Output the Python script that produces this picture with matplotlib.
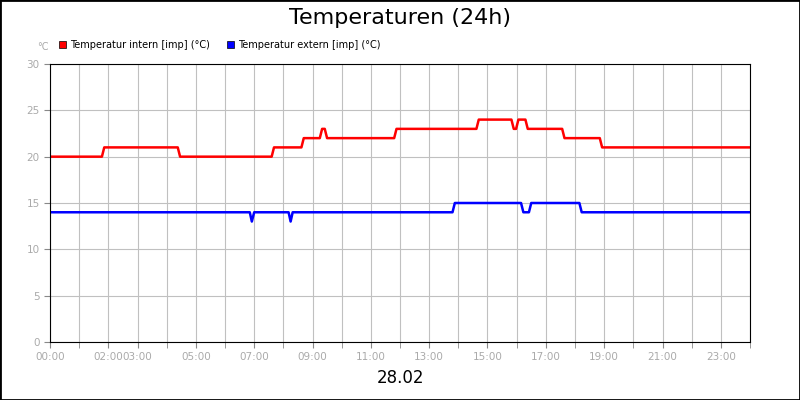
import matplotlib
matplotlib.use("Agg")
import matplotlib.pyplot as plt
from matplotlib.patches import Rectangle

# time (hours) / value breakpoints
intern_t = [0, 1.78, 1.86, 4.38, 4.46, 7.6, 7.68, 8.62, 8.7, 9.25, 9.33, 9.42, 9.5, 11.8, 11.88, 14.62, 14.7, 15.82, 15.9, 15.98, 16.06, 16.3, 16.38, 17.56, 17.64, 18.85, 18.93, 24]
intern_v = [20, 20, 21, 21, 20, 20, 21, 21, 22, 22, 23, 23, 22, 22, 23, 23, 24, 24, 23, 23, 24, 24, 23, 23, 22, 22, 21, 21]
extern_t = [0, 6.85, 6.92, 7.0, 8.18, 8.25, 8.32, 13.8, 13.88, 16.15, 16.23, 16.42, 16.5, 18.15, 18.23, 24]
extern_v = [14, 14, 13, 14, 14, 13, 14, 14, 15, 15, 14, 14, 15, 15, 14, 14]
tick_hours = [0, 2, 3, 5, 7, 9, 11, 13, 15, 17, 19, 21, 23]
tick_labels = ["00:00", "02:00", "03:00", "05:00", "07:00", "09:00", "11:00", "13:00", "15:00", "17:00", "19:00", "21:00", "23:00"]
y_ticks = [0, 5, 10, 15, 20, 25, 30]

fig = plt.figure(figsize=(8, 4), dpi=100)
ax = fig.add_axes([50/800, 1-342/400, 700/800, 278/400])
ax.plot(intern_t, intern_v, color="#ff0000", lw=1.8)
ax.plot(extern_t, extern_v, color="#0000ff", lw=1.8)
ax.set_xlim(0, 24)
ax.set_ylim(0, 30)
ax.set_xticks(range(25), minor=True)
ax.set_xticks(tick_hours)
ax.set_xticklabels(tick_labels)
for lbl, h in zip(ax.get_xticklabels(), tick_hours):
    if h == 2:
        lbl.set_ha("right"); lbl.set_x(0)
ax.get_xticklabels()[1].set_horizontalalignment("center")
ax.set_yticks(y_ticks)
ax.grid(True, which="both", color="#c0c0c0", lw=0.8)
ax.tick_params(which="both", colors="#888888", labelcolor="#aaaaaa", labelsize=7.5, length=4)
for s in ax.spines.values():
    s.set_color("black")
ax.set_axisbelow(True)

fig.text(0.5, 0.955, "Temperaturen (24h)", ha="center", va="center", fontsize=16)
fig.text(0.5, 0.055, "28.02", ha="center", va="center", fontsize=12)
fig.text(37/800, 1-47/400, "°C", ha="left", va="center", fontsize=7, color="#aaaaaa")
for x0, col, lab in [(59, "#ff0000", "Temperatur intern [imp] (°C)"), (227, "#0000ff", "Temperatur extern [imp] (°C)")]:
    fig.patches.append(Rectangle((x0/800, 1-48/400), 7/800, 7/400, transform=fig.transFigure, facecolor=col, edgecolor="black", lw=0.5))
    fig.text((x0+11)/800, 1-44.5/400, lab, ha="left", va="center", fontsize=7)
fig.patches.append(Rectangle((0, 0), 1, 1, transform=fig.transFigure, fill=False, edgecolor="black", lw=2))
fig.savefig("out.png", dpi=100)
